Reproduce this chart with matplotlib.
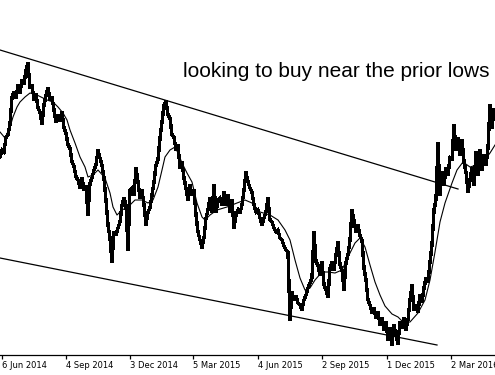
import matplotlib
matplotlib.use("Agg")
import matplotlib.pyplot as plt
import numpy as np

# Precio diario (muestreado cada 2 barras), escala arbitraria
precio = [
    203, 210, 208, 223, 225, 236, 263, 268, 262, 275, 267, 280, 276, 290, 297, 272, 275, 260, 266, 252,
    248, 236, 255, 265, 272, 260, 263, 250, 238, 245, 239, 248, 232, 227, 215, 212, 198, 194, 183, 180,
    172, 182, 170, 174, 145, 177, 182, 190, 195, 210, 202,
    195, 182, 160, 135, 122, 98, 128, 125, 132, 138, 155, 162, 155, 110, 170, 172, 165, 192, 178, 162,
    170, 155, 135, 148, 152, 165, 178, 195, 200, 222, 238, 255, 259, 245, 242, 225, 223, 210, 215, 192,
    198, 182, 172, 160, 175, 165, 170, 145, 128,
    120, 112, 122, 142, 150, 162, 148, 175, 148, 160, 162, 155, 168, 155, 165, 148, 160, 132, 145, 150,
    147, 155, 170, 188, 178, 172, 168, 155, 148, 150, 142, 135, 142, 148, 162, 140, 138, 132, 128, 130,
    122, 120, 114, 110, 108, 40, 68, 60, 64, 57,
    55, 50, 60, 65, 72, 77, 82, 128, 98, 95, 85, 98, 75, 70, 63, 92, 98, 90, 105, 118,
    95, 90, 70, 98, 105, 120, 150, 140, 128, 135, 124, 120, 92, 80, 60, 55, 47, 52, 42, 48,
    35, 42, 30, 38, 20, 32, 15, 35, 25, 16,
    38, 32, 42, 30, 40, 60, 75, 50, 55, 48, 65, 58, 72, 82, 78, 98, 115, 150, 160, 217,
    165, 188, 175, 192, 185, 202, 200, 235, 210, 222, 205, 220, 198, 188, 168, 180, 192, 175, 208, 185,
    210, 190, 205, 195, 212, 255, 232, 250,
]
barras = np.arange(0, 2 * len(precio), 2)

# Media movil
ma_barras = [0, 5, 10, 13, 17, 20, 25, 30, 37, 47, 53, 58, 63, 67, 70, 75, 80, 85, 88, 93, 98,
             105, 110, 113, 117, 122, 128, 135, 142, 148, 153, 158, 162, 165, 170, 175, 178, 182,
             187, 192, 197, 202, 205, 210, 217, 227, 237, 245, 252, 260, 270, 278, 285, 290, 295,
             300, 305, 310, 315, 322, 328, 335, 342, 348, 355, 360, 365, 370, 375, 380, 385, 392,
             398, 403, 410, 418, 425, 430, 435, 440, 445, 452, 457, 463, 470, 477, 483, 490, 495]
ma_valores = [228, 222, 233, 243, 253, 258, 263, 267, 265, 260, 258, 253, 247, 240, 230, 217, 203,
              193, 183, 185, 190, 182, 167, 153, 145, 150, 153, 160, 160, 157, 160, 173, 190, 203,
              210, 213, 207, 197, 187, 178, 157, 143, 140, 145, 150, 153, 157, 160, 157, 148, 145,
              140, 130, 120, 100, 82, 70, 72, 80, 88, 88, 87, 90, 103, 117, 122, 113, 95, 78, 65,
              54, 46, 43, 38, 38, 47, 60, 80, 108, 138, 157, 177, 190, 198, 193, 195, 198, 207, 215]

# Lineas de tendencia (barra, valor)
canal_sup = ([0, 458], [310, 171])
canal_inf = ([0, 437], [102, 15])

fechas_pos = [2, 66, 130, 193, 258, 322, 387, 451]
fechas = ['6 Jun 2014', '4 Sep 2014', '3 Dec 2014', '5 Mar 2015',
          '4 Jun 2015', '2 Sep 2015', '1 Dec 2015', '2 Mar 2016']

fig = plt.figure(figsize=(4.95, 3.75), dpi=100)
ax = fig.add_axes([0, 20 / 375, 1, 355 / 375])

ax.plot(barras, precio, color='black', linewidth=1.7, solid_joinstyle='miter', antialiased=False)
ax.plot(ma_barras, ma_valores, color='black', linewidth=0.8)
ax.plot(*canal_sup, color='black', linewidth=0.9)
ax.plot(*canal_inf, color='black', linewidth=0.9)

ax.text(183, 283, 'looking to buy near the prior lows', fontsize=15,
        family='Liberation Sans', ha='left', va='baseline')

ax.set_xlim(0, 495)
ax.set_ylim(5, 360)
for lado in ['top', 'right', 'left']:
    ax.spines[lado].set_visible(False)
ax.spines['bottom'].set_linewidth(0.9)
ax.set_yticks([])
ax.set_xticks(fechas_pos)
ax.set_xticklabels(fechas, fontsize=6, family='DejaVu Sans')
ax.tick_params(axis='x', direction='out', length=3, width=0.9, pad=1.5)
for etiqueta in ax.get_xticklabels():
    etiqueta.set_horizontalalignment('left')

fig.savefig('out.png', dpi=100)
